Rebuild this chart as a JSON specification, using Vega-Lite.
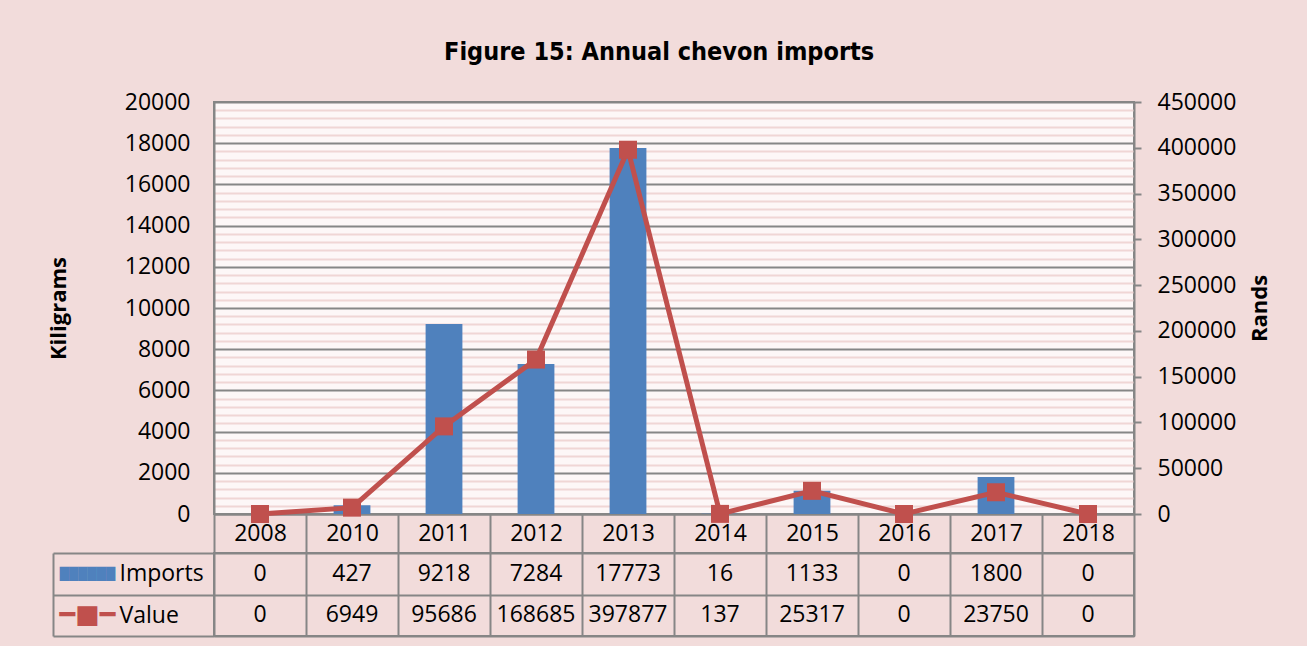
{
  "$schema": "https://vega.github.io/schema/vega-lite/v6.json",
  "background": "#F2DCDB",
  "padding": {"left": 46, "top": 40, "right": 35, "bottom": 10},
  "config": {
    "font": "Open Sans",
    "axis": {"labelFont": "Open Sans", "titleFont": "Open Sans", "labelColor": "black", "titleColor": "black"},
    "concat": {"spacing": 0}
  },
  "datasets": {
    "imports": [
      {"Year": "2008", "Imports": 0, "Value": 0},
      {"Year": "2010", "Imports": 427, "Value": 6949},
      {"Year": "2011", "Imports": 9218, "Value": 95686},
      {"Year": "2012", "Imports": 7284, "Value": 168685},
      {"Year": "2013", "Imports": 17773, "Value": 397877},
      {"Year": "2014", "Imports": 16, "Value": 137},
      {"Year": "2015", "Imports": 1133, "Value": 25317},
      {"Year": "2016", "Imports": 0, "Value": 0},
      {"Year": "2017", "Imports": 1800, "Value": 23750},
      {"Year": "2018", "Imports": 0, "Value": 0}
    ]
  },
  "title": {
    "text": "Figure 15: Annual chevon imports",
    "font": "DejaVu Sans Condensed, Liberation Sans Narrow, Liberation Sans",
    "fontSize": 25,
    "fontWeight": "bold",
    "color": "black",
    "anchor": "middle",
    "offset": 25
  },
  "spacing": 39,
  "bounds": "flush",
  "vconcat": [
    {
      "width": 920,
      "height": 412,
      "view": {"fill": "#FDF7F7", "stroke": "#868686", "strokeWidth": 2},
      "data": {"name": "imports"},
      "encoding": {
        "x": {
          "field": "Year",
          "type": "ordinal",
          "sort": null,
          "scale": {"paddingInner": 0, "paddingOuter": 0},
          "axis": {
            "title": null,
            "labelAngle": 0,
            "labelFontSize": 23,
            "labelPadding": -31,
            "tickBand": "extent",
            "tickSize": 39,
            "tickColor": "#868686",
            "tickWidth": 2,
            "domainColor": "#868686",
            "domainWidth": 2,
            "grid": false
          }
        }
      },
      "layer": [
        {
          "mark": {"type": "bar", "color": "#4F81BD", "width": {"band": 0.4}},
          "encoding": {
            "y": {
              "field": "Imports",
              "type": "quantitative",
              "scale": {"domain": [0, 20000], "nice": false},
              "axis": {
                "values": [0, 2000, 4000, 6000, 8000, 10000, 12000, 14000, 16000, 18000, 20000],
                "format": "d",
                "title": "Kiligrams",
                "titleFontSize": 22,
                "titleFontWeight": "bold",
                "titlePadding": 54,
                "labelFontSize": 23,
                "labelPadding": 24,
                "ticks": false,
                "grid": true,
                "gridColor": "#868686",
                "gridWidth": 2,
                "domainColor": "#868686",
                "domainWidth": 2
              }
            }
          }
        },
        {
          "mark": {
            "type": "line",
            "color": "#C0504D",
            "strokeWidth": 5,
            "point": {"shape": "square", "size": 324, "filled": true, "color": "#C0504D", "opacity": 1}
          },
          "encoding": {
            "y": {
              "field": "Value",
              "type": "quantitative",
              "scale": {"domain": [0, 450000], "nice": false},
              "axis": {
                "orient": "right",
                "values": [0, 50000, 100000, 150000, 200000, 250000, 300000, 350000, 400000, 450000],
                "format": "d",
                "title": "Rands",
                "titleAngle": 270,
                "titleBaseline": "top",
                "titleFontSize": 22,
                "titleFontWeight": "bold",
                "titlePadding": 14,
                "labelFontSize": 23,
                "labelPadding": 16,
                "ticks": true,
                "tickSize": 7,
                "tickColor": "#868686",
                "tickWidth": 2,
                "grid": false,
                "domainColor": "#868686",
                "domainWidth": 2
              }
            }
          }
        },
        {
          "mark": {"type": "bar", "opacity": 0, "width": {"band": 0.4}},
          "encoding": {
            "y": {
              "field": "Imports",
              "type": "quantitative",
              "scale": {"domain": [0, 20000], "nice": false},
              "axis": {
                "orient": "left",
                "values": [400, 800, 1200, 1600, 2400, 2800, 3200, 3600, 4400, 4800, 5200, 5600, 6400, 6800, 7200, 7600, 8400, 8800, 9200, 9600, 10400, 10800, 11200, 11600, 12400, 12800, 13200, 13600, 14400, 14800, 15200, 15600, 16400, 16800, 17200, 17600, 18400, 18800, 19200, 19600],
                "title": null,
                "labels": false,
                "ticks": false,
                "domain": false,
                "grid": true,
                "gridColor": "#F0D6D5",
                "gridWidth": 2
              }
            }
          }
        }
      ],
      "resolve": {"scale": {"y": "independent"}, "axis": {"y": "independent"}}
    },
    {
      "width": 920,
      "height": 83,
      "view": {"stroke": "#868686", "strokeWidth": 2},
      "data": {"name": "imports"},
      "transform": [{"fold": ["Imports", "Value"], "as": ["series", "amount"]}],
      "encoding": {
        "x": {
          "field": "Year",
          "type": "ordinal",
          "sort": null,
          "scale": {"paddingInner": 0, "paddingOuter": 0},
          "axis": {
            "title": null,
            "labels": false,
            "ticks": false,
            "domain": false,
            "grid": true,
            "tickBand": "extent",
            "gridColor": "#868686",
            "gridWidth": 2
          }
        }
      },
      "layer": [
        {
          "mark": {"type": "text", "fontSize": 23, "color": "black", "font": "Open Sans"},
          "encoding": {
            "y": {
              "field": "series",
              "type": "nominal",
              "sort": ["Imports", "Value"],
              "scale": {"paddingInner": 0, "paddingOuter": 0},
              "axis": {
                "orient": "left",
                "title": null,
                "domain": false,
                "ticks": true,
                "tickBand": "extent",
                "tickSize": 161,
                "tickColor": "#868686",
                "tickWidth": 2,
                "grid": true,
                "gridColor": "#868686",
                "gridWidth": 2,
                "labelAlign": "left",
                "labelPadding": -66,
                "labelFontSize": 23
              }
            },
            "text": {"field": "amount", "type": "nominal"}
          }
        },
        {
          "mark": {"type": "text", "text": ""},
          "encoding": {
            "y": {
              "field": "series",
              "type": "nominal",
              "sort": ["Imports", "Value"],
              "axis": {
                "orient": "left",
                "offset": 161,
                "title": null,
                "domain": true,
                "domainColor": "#868686",
                "domainWidth": 2,
                "ticks": false,
                "grid": false,
                "labelAlign": "center",
                "labelPadding": -34,
                "labelFont": "DejaVu Sans",
                "labelExpr": "datum.value == 'Imports' ? '██████' : '━■━'",
                "labelFontSize": {"condition": {"test": "datum.value == 'Imports'", "value": 12}, "value": 26},
                "labelColor": {"condition": {"test": "datum.value == 'Imports'", "value": "#4F81BD"}, "value": "#C0504D"}
              }
            }
          }
        }
      ],
      "resolve": {"axis": {"y": "independent"}}
    }
  ]
}
